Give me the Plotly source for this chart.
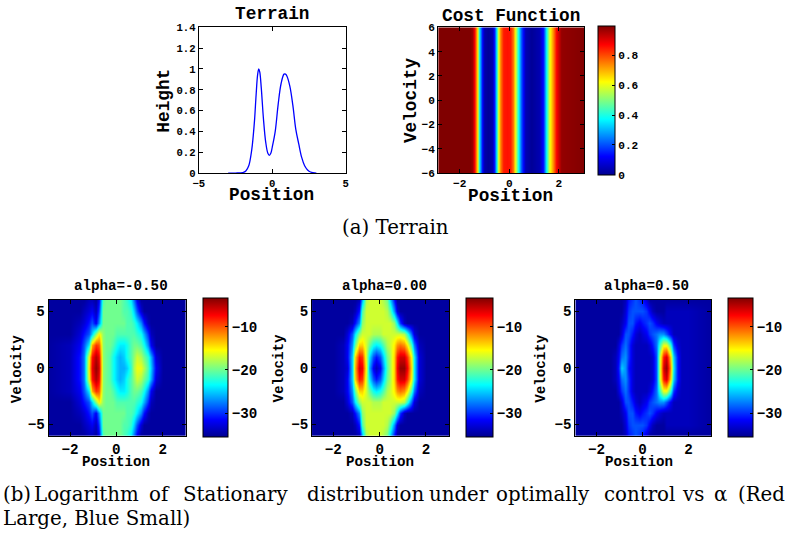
import plotly.graph_objects as go

W, H = 787, 533

# ---------------- data ----------------
terrain_x = [-3.0, -2.5, -2.0, -1.8, -1.6, -1.4, -1.3, -1.2, -1.1, -1.0, -0.92, -0.85, -0.75,
             -0.6, -0.45, -0.3, -0.2, -0.1, 0.0, 0.2, 0.4, 0.6, 0.8, 0.9, 1.0, 1.2, 1.4, 1.6,
             1.8, 2.0, 2.2, 2.4, 2.6, 3.0]
terrain_h = [0, 0, 0.005, 0.02, 0.07, 0.22, 0.35, 0.52, 0.75, 0.94, 1.0, 0.97, 0.82,
             0.52, 0.3, 0.19, 0.17, 0.19, 0.25, 0.40, 0.66, 0.86, 0.95, 0.95, 0.93, 0.83, 0.65, 0.42,
             0.28, 0.15, 0.07, 0.03, 0.01, 0]

cost_x = [-3.0, -1.6, -1.5, -1.41, -1.31, -1.2, -1.11, -1.0, -0.85, -0.7, -0.6, -0.51, -0.44,
          -0.35, -0.24, -0.1, 0.05, 0.16, 0.25, 0.36, 0.49, 0.63, 0.9, 1.2, 1.36, 1.5, 1.63,
          1.76, 1.9, 2.1, 3.1]
cost_v = [1, 1, 0.97, 0.88, 0.65, 0.35, 0.12, 0.03, 0.01, 0.04, 0.15, 0.35, 0.6,
          0.75, 0.85, 0.86, 0.85, 0.75, 0.6, 0.38, 0.2, 0.04, 0.01, 0.04, 0.15, 0.38, 0.6,
          0.75, 0.88, 0.98, 1]
cost_vel = [-6, 6]

# grid of the stationary-distribution maps (position nodes, |velocity| rows 0..6)
pos_nodes = [-3.0, -2.0, -1.6, -1.4, -1.2, -1.05, -0.9, -0.75, -0.6, -0.45, -0.3, -0.15, 0,
             0.15, 0.3, 0.45, 0.6, 0.75, 0.9, 1.05, 1.2, 1.35, 1.5, 1.7, 2.0, 3.1]
vel_abs = [0, 1, 2, 3, 4, 5, 6]

logp_alpha_m050 = [
    [-35, -34, -31, -28, -15, -7, -4, -6, -19, -20, -21, -23, -25, -26, -26, -25, -22, -18, -16, -16, -18, -21, -25, -32, -35, -35],
    [-35, -34, -31, -28, -16, -8, -5, -7, -19, -20, -21, -23, -25, -26, -25, -23, -21, -19, -17, -18, -20, -22, -26, -33, -35, -35],
    [-35, -34, -32, -29, -24, -13, -9, -10, -19, -20, -20, -21, -23, -24, -24, -23, -21, -20, -20, -21, -23, -27, -32, -35, -35, -35],
    [-35, -35, -33, -31, -29, -25, -19, -15, -19, -20, -20, -20, -21, -21, -21, -21, -21, -21, -22, -23, -26, -30, -34, -35, -35, -35],
    [-35, -35, -34, -33, -31, -29, -32, -27, -20, -20, -20, -20, -20, -20, -20, -21, -21, -22, -24, -27, -31, -34, -35, -35, -35, -35],
    [-35, -35, -35, -34, -33, -32, -34, -30, -20, -20, -20, -20, -20, -20, -21, -21, -22, -25, -29, -33, -35, -35, -35, -35, -35, -35],
    [-35, -35, -35, -35, -34, -34, -35, -32, -21, -20, -20, -20, -20, -20, -21, -22, -24, -28, -32, -35, -35, -35, -35, -35, -35, -35],
]
logp_alpha_000 = [
    [-35, -35, -34, -33, -25, -13, -6, -7, -16, -26, -32, -34, -32, -27, -21, -18, -14, -7, -4, -4, -7, -14, -24, -33, -35, -35],
    [-35, -35, -34, -32, -25, -14, -8, -9, -17, -24, -29, -31, -29, -25, -20, -18, -14, -8, -6, -6, -9, -15, -24, -33, -35, -35],
    [-35, -35, -34, -32, -27, -20, -14, -14, -17, -20, -23, -24, -23, -21, -18, -17, -15, -12, -11, -12, -15, -21, -28, -34, -35, -35],
    [-35, -35, -35, -33, -29, -24, -19, -17, -17, -17, -18, -18, -18, -17, -17, -17, -17, -17, -17, -18, -22, -28, -33, -35, -35, -35],
    [-35, -35, -35, -35, -34, -31, -27, -19, -17, -17, -17, -17, -17, -17, -17, -17, -19, -24, -30, -34, -35, -35, -35, -35, -35, -35],
    [-35, -35, -35, -35, -35, -34, -31, -21, -17, -17, -17, -17, -17, -17, -18, -21, -27, -33, -35, -35, -35, -35, -35, -35, -35, -35],
    [-35, -35, -35, -35, -35, -35, -34, -26, -18, -17, -17, -17, -17, -18, -20, -25, -31, -35, -35, -35, -35, -35, -35, -35, -35, -35],
]
logp_alpha_050 = [
    [-35, -35, -35, -35, -34, -31, -25, -27, -31, -33, -34, -34, -34, -34, -34, -33, -29, -18, -6, -4, -12, -24, -31, -34, -34, -35],
    [-35, -35, -35, -35, -34, -32, -28, -27, -30, -33, -34, -34, -34, -34, -34, -33, -29, -18, -8, -6, -14, -25, -31, -34, -34, -35],
    [-35, -35, -35, -35, -35, -33, -30, -28, -30, -33, -34, -34, -34, -34, -33, -31, -28, -22, -16, -16, -22, -30, -33, -34, -34, -35],
    [-35, -35, -35, -35, -35, -35, -33, -29, -29, -31, -33, -34, -33, -32, -30, -29, -28, -27, -27, -29, -32, -34, -34, -34, -34, -35],
    [-35, -35, -35, -35, -35, -35, -34, -32, -29, -29, -31, -32, -31, -30, -29, -30, -32, -33, -34, -34, -34, -34, -34, -34, -34, -35],
    [-35, -35, -35, -35, -35, -35, -35, -33, -30, -29, -29, -29, -29, -30, -32, -34, -35, -35, -35, -34, -34, -34, -34, -34, -34, -35],
    [-35, -35, -35, -35, -35, -35, -35, -34, -31, -30, -29, -30, -31, -33, -35, -35, -35, -35, -35, -35, -35, -35, -35, -35, -35, -35],
]
alpha_titles = ["alpha=-0.50", "alpha=0.00", "alpha=0.50"]
logp_range = [-35.6, -3.4]
logp_ticks = [-30, -20, -10]
cost_ticks = [0, 0.2, 0.4, 0.6, 0.8]

caption_a = "(a) Terrain"
caption_b_words = ["(b)", "Logarithm", "of", "Stationary", "distribution", "under",
                   "optimally", "control", "vs", "α", "(Red"]
caption_b_word_px = [1, 32, 148, 182, 307, 430, 497, 606, 684, 717, 741]
caption_b_line2 = "Large, Blue Small)"

# ---------------- helpers ----------------
# The photographed page comes out slightly shrunk (about 0.986, centred horizontally),
# so target window pixels are mapped back to figure pixels here.
SC = 0.986
OX, OY = 6.0, -0.5

def fx(px):
    return ((px - OX) / SC) / W

def fy(py):
    return 1 - ((py - OY) / SC) / H

def sz(v):
    return v / SC

jet = [[0.0, "rgb(0,0,143)"], [0.125, "rgb(0,0,255)"], [0.375, "rgb(0,255,255)"],
       [0.625, "rgb(255,255,0)"], [0.875, "rgb(255,0,0)"], [1.0, "rgb(128,0,0)"]]

def full_grid(rows):
    vel = [-v for v in reversed(vel_abs[1:])] + vel_abs
    z = [rows[v] for v in reversed(vel_abs[1:])] + [rows[v] for v in vel_abs]
    return vel, z

MONO = "Liberation Mono"
fig = go.Figure()

# terrain line
fig.add_trace(go.Scatter(x=terrain_x, y=terrain_h, mode="lines", line=dict(color="rgb(0,0,255)", width=1.3),
                         line_shape="spline", xaxis="x", yaxis="y", showlegend=False))

# cost heatmap
fig.add_trace(go.Heatmap(x=cost_x, y=cost_vel, z=[cost_v, cost_v], zmin=0, zmax=1, colorscale=jet,
                         zsmooth="best", xaxis="x2", yaxis="y2",
                         colorbar=dict(x=fx(602), xanchor="left", y=fy(95.5), yanchor="middle",
                                       len=sz(147), lenmode="pixels", thickness=sz(17), thicknessmode="pixels",
                                       xpad=0, ypad=0, outlinewidth=1, outlinecolor="black",
                                       tickvals=cost_ticks, ticktext=["0", "0.2", "0.4", "0.6", "0.8"],
                                       ticks="inside", ticklen=3, tickcolor="black",
                                       tickfont=dict(size=sz(11), family=MONO, weight="bold"))))

# stationary distributions
bottom_axes = [(49, 187, 204, 25), (314, 452, 469, 27), (579, 716, 733, 25)]
for i, rows in enumerate([logp_alpha_m050, logp_alpha_000, logp_alpha_050]):
    vel, z = full_grid(rows)
    cbx, cbt = bottom_axes[i][2], bottom_axes[i][3]
    fig.add_trace(go.Heatmap(x=pos_nodes, y=vel, z=z, zmin=logp_range[0], zmax=logp_range[1],
                             colorscale=jet, zsmooth="best", xaxis=f"x{i+3}", yaxis=f"y{i+3}",
                             colorbar=dict(x=fx(cbx), xanchor="left", y=fy(365.5), yanchor="middle",
                                           len=sz(137), lenmode="pixels", thickness=sz(cbt), thicknessmode="pixels",
                                           xpad=0, ypad=0, outlinewidth=1, outlinecolor="black",
                                           tickvals=logp_ticks, ticks="inside", ticklen=3, tickcolor="black",
                                           tickfont=dict(size=sz(14), family=MONO, weight="bold"))))

axis_common = dict(showline=True, linecolor="black", linewidth=1, mirror="ticks", ticks="inside",
                   ticklen=4, tickcolor="black", showgrid=False, zeroline=False)

layout = dict(
    width=W, height=H, margin=dict(l=0, r=0, t=0, b=0),
    paper_bgcolor="white", plot_bgcolor="white",
    font=dict(family=MONO, weight="bold", color="black"),
    showlegend=False,
    xaxis=dict(domain=[fx(200), fx(348)], range=[-5, 5], tickvals=[-5, 0, 5], anchor="y",
               tickfont=dict(size=sz(10.5)), **axis_common),
    yaxis=dict(domain=[fy(169), fy(22)], range=[0, 1.4], dtick=0.2, anchor="x",
               tickfont=dict(size=sz(10.5)), **axis_common),
    xaxis2=dict(domain=[fx(441), fx(588)], range=[-2.87, 3.03], tickvals=[-2, 0, 2], anchor="y2",
                tickfont=dict(size=sz(11)), **axis_common),
    yaxis2=dict(domain=[fy(169), fy(22)], range=[-6, 6], dtick=2, anchor="x2",
                tickfont=dict(size=sz(11)), **axis_common),
)
for i, (x0, x1, _, _) in enumerate(bottom_axes):
    n = i + 3
    layout[f"xaxis{n}"] = dict(domain=[fx(x0), fx(x1)], range=[-2.92, 3.0], tickvals=[-2, 0, 2],
                               anchor=f"y{n}", tickfont=dict(size=sz(14)), **axis_common)
    layout[f"yaxis{n}"] = dict(domain=[fy(434), fy(297)], range=[-6, 6], tickvals=[-5, 0, 5],
                               anchor=f"x{n}", tickfont=dict(size=sz(14)), **axis_common)
fig.update_layout(**layout)

def ann(text, px, py, size, angle=0, family=MONO, weight="bold", xanchor="center"):
    fig.add_annotation(text=text, x=fx(px), y=fy(py), xref="paper", yref="paper",
                       showarrow=False, xanchor=xanchor, yanchor="middle", textangle=angle,
                       font=dict(size=sz(size), family=family, weight=weight, color="black"))

# top titles and labels
ann("Terrain", 274, 9, 17.5)
ann("Position", 273, 191, 17.5)
ann("Height", 165, 96, 17.5, angle=-90)
ann("Cost Function", 514, 11, 17.5)
ann("Position", 514, 192, 17.5)
ann("Velocity", 413, 96, 17.5, angle=-90)

# bottom titles and labels
title_px = [122, 387, 651]
pos_px = [117, 382, 643]
vel_px = [17, 281, 545]
for i in range(3):
    ann(alpha_titles[i], title_px[i], 283, 14)
    ann("Position", pos_px[i], 460, 14)
    ann("Velocity", vel_px[i], 366, 14, angle=-90)

# captions
SERIF = "DejaVu Serif"
ann(caption_a, 398, 224, 19.5, family=SERIF, weight="normal")
for w, p in zip(caption_b_words, caption_b_word_px):
    ann(w, p, 493, 19.5, family=SERIF, weight="normal", xanchor="left")
ann(caption_b_line2, 1, 517, 19.5, family=SERIF, weight="normal", xanchor="left")

# pin the figure to the window corner so the page does not grow beyond the window
fig.write_html(
    "out.html",
    config={"displayModeBar": False},
    post_script=("var d=document.getElementById('{plot_id}');"
                 "d.style.position='fixed';d.style.left='0px';d.style.top='0px';"
                 "document.body.style.margin='0';"),
)
